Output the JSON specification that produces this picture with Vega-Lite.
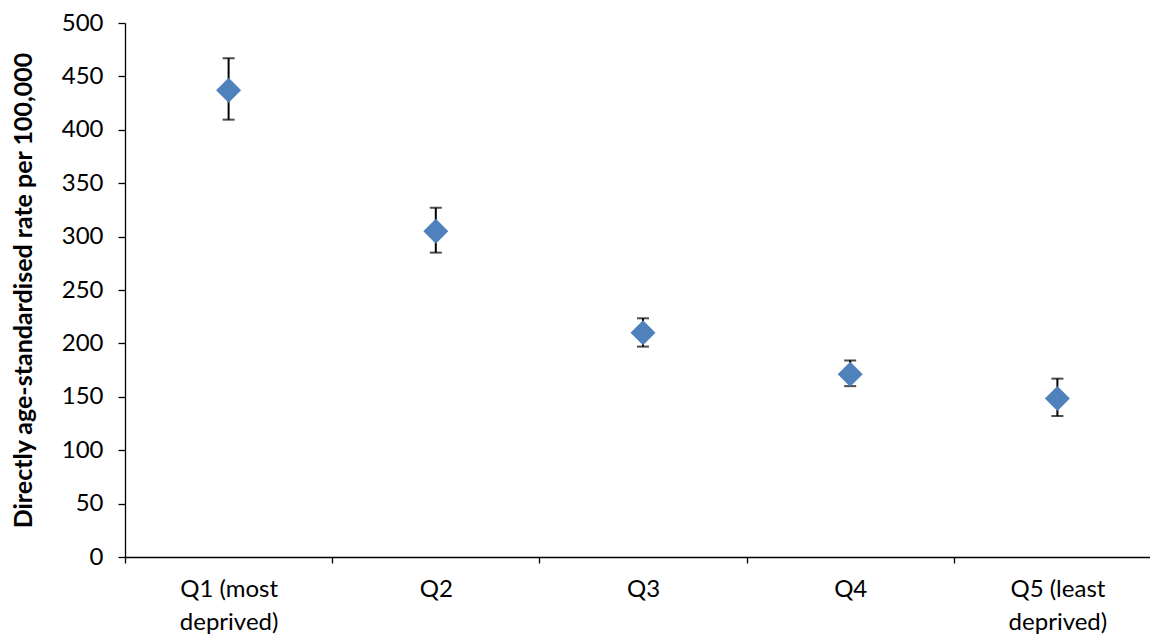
{
  "$schema": "https://vega.github.io/schema/vega-lite/v6.json",
  "autosize": {"type": "none"},
  "padding": {"left": 125, "top": 23, "right": 0, "bottom": 82},
  "width": 1025,
  "height": 534,
  "background": "white",
  "config": {"view": {"stroke": null}, "font": "Lato"},
  "data": {"values": [
    {"group": "Q1 (most deprived)", "rate": 437, "lower": 409.5, "upper": 467},
    {"group": "Q2", "rate": 305, "lower": 285, "upper": 327},
    {"group": "Q3", "rate": 210, "lower": 197, "upper": 223.5},
    {"group": "Q4", "rate": 171, "lower": 160, "upper": 184},
    {"group": "Q5 (least deprived)", "rate": 148.5, "lower": 132, "upper": 167}
  ]},
  "encoding": {
    "x": {
      "field": "group", "type": "nominal", "sort": null,
      "scale": {"type": "band", "range": [0, 1036], "paddingInner": 0, "paddingOuter": 0},
      "axis": {
        "title": null, "labelAngle": 0, "domainColor": "black", "domainWidth": 1.3,
        "tickColor": "black", "tickSize": 6, "tickWidth": 1.3, "tickBand": "extent",
        "labelFontSize": 24, "labelColor": "black", "labelPadding": 14, "labelLineHeight": 33,
        "labelExpr": "isValid(datum.value) ? split(replace(datum.value, ' deprived', '|deprived'), '|') : ''"
      }
    }
  },
  "layer": [
    {
      "mark": {"type": "rule", "color": "black", "strokeWidth": 2},
      "encoding": {
        "y": {"field": "lower", "type": "quantitative"},
        "y2": {"field": "upper"}
      }
    },
    {
      "mark": {"type": "tick", "color": "black", "thickness": 2, "size": 12, "orient": "horizontal"},
      "encoding": {"y": {"field": "lower", "type": "quantitative"}}
    },
    {
      "mark": {"type": "tick", "color": "black", "thickness": 2, "size": 12, "orient": "horizontal"},
      "encoding": {"y": {"field": "upper", "type": "quantitative"}}
    },
    {
      "mark": {"type": "point", "shape": "diamond", "filled": true, "size": 625, "color": "#4F81BD", "opacity": 1},
      "encoding": {
        "y": {
          "field": "rate", "type": "quantitative",
          "scale": {"domain": [0, 500], "nice": false, "zero": true},
          "axis": {
            "title": "Directly age-standardised  rate per 100,000",
            "titleFontSize": 25, "titleFontWeight": "bold", "titleColor": "black", "titlePadding": 25,
            "values": [0, 50, 100, 150, 200, 250, 300, 350, 400, 450, 500],
            "grid": false, "domainColor": "black", "domainWidth": 1.3,
            "tickColor": "black", "tickSize": 7, "tickWidth": 1.3,
            "labelFontSize": 24, "labelColor": "black", "labelPadding": 15
          }
        }
      }
    }
  ]
}
